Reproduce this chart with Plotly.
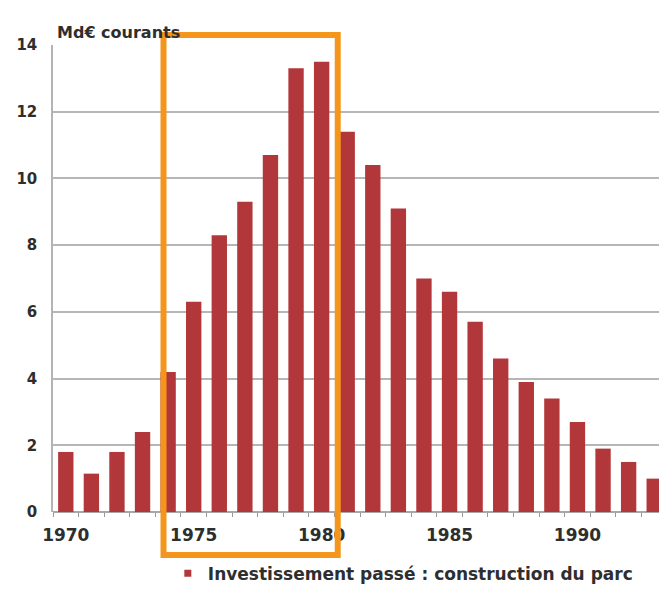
import plotly.graph_objects as go

years = list(range(1970, 1994))
values = [1.8, 1.15, 1.8, 2.4, 4.2, 6.3, 8.3, 9.3, 10.7, 13.3, 13.5, 11.4,
          10.4, 9.1, 7.0, 6.6, 5.7, 4.6, 3.9, 3.4, 2.7, 1.9, 1.5, 1.0]
x_ticks = [1970, 1975, 1980, 1985, 1990]
y_ticks = [0, 2, 4, 6, 8, 10, 12, 14]
series_name = "Investissement passé : construction du parc"
unit_label = "Md€ courants"
highlight = (1973.82, 1980.63)

bar_color = "#B2373A"
text_color = "#2e2e2e"
font_family = "DejaVu Sans, Verdana, sans-serif"

fig = go.Figure()
fig.add_trace(go.Bar(
    x=years, y=values, marker=dict(color=bar_color, line=dict(width=0)),
    width=0.6, showlegend=False, hoverinfo="x+y",
))
fig.add_trace(go.Scatter(
    x=[None], y=[None], mode="markers", name=series_name,
    marker=dict(symbol="square", size=7, color=bar_color),
))

fig.update_layout(
    width=667, height=589,
    margin=dict(l=45, r=8, t=37, b=85, autoexpand=False),
    plot_bgcolor="white", paper_bgcolor="white",
    font=dict(family=font_family, color=text_color),
    showlegend=True,
    legend=dict(
        orientation="h", x=0.187, y=-0.132, xanchor="left", yanchor="middle",
        font=dict(size=17, family=font_family, color=text_color, weight="bold"),
        itemwidth=30, bgcolor="rgba(0,0,0,0)",
    ),
    xaxis=dict(
        range=[1969.5, 1993.5], tickvals=x_ticks, ticks="", automargin=False,
        tickfont=dict(size=17, weight="bold", color=text_color),
        ticklabelstandoff=11,
        showgrid=False, zeroline=False, showline=False,
        minor=dict(tick0=1969.5, dtick=1, ticks="outside", ticklen=4,
                   tickcolor="#9a9a9a", tickwidth=1, showgrid=False),
    ),
    yaxis=dict(
        range=[0, 14], tickvals=y_ticks, automargin=False,
        tickfont=dict(size=15, weight="bold", color=text_color),
        showgrid=True, gridcolor="#b6b6b6", gridwidth=1.5,
        zeroline=True, zerolinecolor="#a8a8a8", zerolinewidth=1.5,
        showline=True, linecolor="#b4b4b4", linewidth=1.5,
        ticks="outside", ticklen=11, tickcolor="rgba(0,0,0,0)",
    ),
)

fig.add_annotation(
    text=unit_label, xref="paper", yref="paper", x=0.003, y=1.026,
    xanchor="left", yanchor="middle", showarrow=False,
    font=dict(size=16, weight="bold", color=text_color, family=font_family),
)

fig.add_shape(
    type="rect", xref="x", yref="paper",
    x0=highlight[0], x1=highlight[1], y0=-0.092, y1=1.0214,
    line=dict(color="#F5961C", width=6), layer="above",
)

fig.write_html("out.html")
